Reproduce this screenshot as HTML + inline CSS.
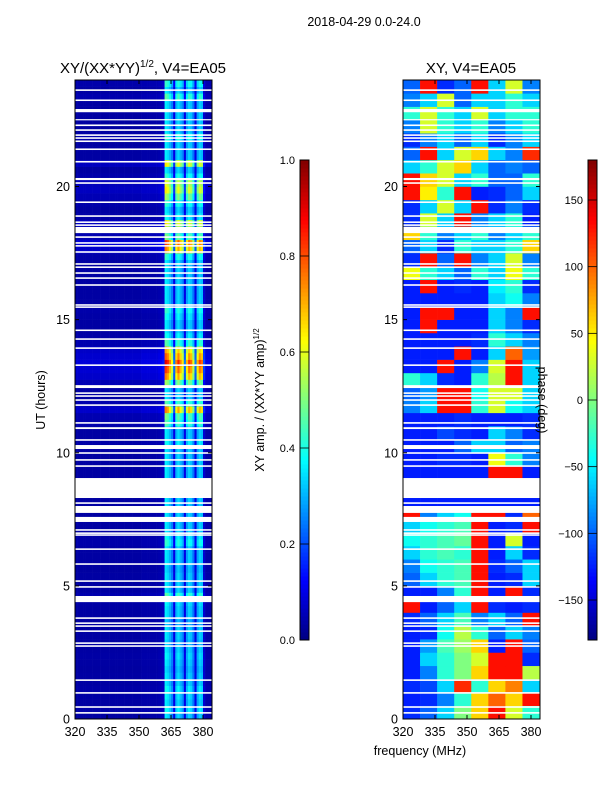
<!DOCTYPE html>
<html><head><meta charset="utf-8">
<style>
body{margin:0;background:#fff;width:600px;height:800px;overflow:hidden;font-family:"Liberation Sans","DejaVu Sans",sans-serif;}
svg text{font-family:"Liberation Sans","DejaVu Sans",sans-serif;fill:#000;}
</style></head><body>
<svg id="fig" width="600" height="800" xmlns="http://www.w3.org/2000/svg">
<rect x="0" y="0" width="600" height="800" fill="#fff"/>
<text x="364" y="26" font-size="12.5" text-anchor="middle">2018-04-29 0.0-24.0</text>
<text x="143" y="73" font-size="15" text-anchor="middle">XY/(XX*YY)<tspan font-size="10" dy="-6">1/2</tspan><tspan dy="6">, V4=EA05</tspan></text>
<text x="471" y="73" font-size="15" text-anchor="middle">XY, V4=EA05</text>
<g id="leftHeat"></g>
<g id="rightHeat"></g>
<g id="axes"></g>
<text transform="translate(45,400) rotate(-90)" font-size="12.5" text-anchor="middle">UT (hours)</text>
<text x="420" y="755" font-size="12.5" text-anchor="middle">frequency (MHz)</text>
<text transform="translate(264,400) rotate(-90)" font-size="12.5" text-anchor="middle">XY amp. / (XX*YY amp)<tspan font-size="8" dy="-5">1/2</tspan></text>
<text transform="translate(538,400) rotate(90)" font-size="12.5" text-anchor="middle">phase (deg)</text>
</svg>
<script>
// ---- data ----
const freqTicks = [320, 335, 350, 365, 380];
const hourTicks = [0, 5, 10, 15, 20];
const ampTicks = [0.0, 0.2, 0.4, 0.6, 0.8, 1.0];
const phaseTicks = [-150, -100, -50, 0, 50, 100, 150];
// amplitude column profile, 1-MHz bins from 320 to 384
const ampColProfile = [0.035,0.035,0.035,0.035,0.035,0.035,0.035,0.035,0.035,0.035,0.035,0.035,0.035,0.035,0.035,0.035,
 0.035,0.035,0.035,0.035,0.035,0.035,0.035,0.035,0.035,0.035,0.035,0.035,0.035,0.035,0.035,0.04,
 0.04,0.04,0.04,0.04,0.04,0.04,0.04,0.045,0.05,0.06,0.36,0.34,0.3,0.25,0.1,0.3,
 0.34,0.3,0.26,0.1,0.28,0.33,0.31,0.24,0.1,0.28,0.33,0.31,0.08,0.04,0.04,0.04];
// amplitude row gain, 0.25-hour bins from 0 to 24
const ampRowGain = [1.0,1.1,1.0,1.05,1.1,1.0,1.0,0.95,1.0,1.05,1.0,0.95,1.0,1.0,0.9,1.0,
 1.0,1.05,1.3,1.0,1.0,1.0,0.95,1.0,1.0,1.0,1.2,1.1,1.0,1.0,1.0,1.0,
 1.0,1.0,1.0,1.0,1.0,1.0,1.0,1.0,1.0,1.1,1.0,1.0,1.3,1.4,2.1,1.3,
 1.0,1.0,1.5,2.1,2.3,2.5,2.2,2.0,1.3,1.1,1.0,1.0,1.1,1.2,1.0,1.0,
 1.0,1.0,1.0,1.0,1.0,1.2,2.1,2.3,1.4,1.0,1.8,1.1,1.0,1.2,1.5,1.8,
 1.7,1.2,1.0,1.8,1.0,1.0,1.0,1.2,1.0,1.0,1.0,1.0,1.0,1.3,1.0,1.2];
// phase (deg), 8 freq bins of 8 MHz (320-384), 48 rows of 0.5 h
const phaseRows = [
 [-120,-100,-60,0,60,130,30,-30],[-125,-120,-90,-30,60,100,60,130],
 [-120,-110,-60,120,-30,60,90,-60],[-125,-90,-30,0,60,130,130,20],
 [-125,-60,-30,0,30,130,130,-120],[-125,-80,-20,10,60,-125,130,-100],
 [-125,-120,-40,20,-30,-100,-60,-90],[-120,-100,-60,-20,-90,-60,-100,130],
 [130,-125,-100,-60,130,-120,-125,-120],[-125,-125,-90,-30,130,-125,130,-120],
 [-100,-60,-30,-20,130,-125,-120,-60],[-90,-40,-30,-20,130,-120,-100,-60],
 [-60,-30,-20,-30,130,-125,-60,-120],[-40,-30,-20,-10,130,-125,30,-125],
 [-60,-40,-30,-20,130,-125,-120,130],[130,-90,-60,-40,130,130,-120,100],
 [-125,-125,-125,-125,-125,-125,-125,-125],[-125,-125,-125,-125,-125,-125,-125,-125],
 [-125,-125,-125,-125,-125,130,130,-125],[-125,-125,-120,-120,-125,40,-30,-90],
 [-125,-125,-125,-100,-60,-60,-100,-90],[-125,-125,-110,-120,-125,-60,-90,-120],
 [-125,-125,-125,-120,-125,-125,-125,-120],[-90,-60,130,130,-30,30,-40,-60],
 [-100,-80,130,130,-40,30,30,-60],[-30,-60,-120,-125,-30,20,130,-60],
 [-125,-125,130,-125,-90,30,130,-60],[-125,-125,-125,130,-125,-60,100,-80],
 [-125,-125,-125,-125,-120,-30,-60,-90],[-125,130,-125,-125,-125,-60,-90,-120],
 [-125,130,130,-125,-125,-60,-90,130],[-125,-125,-125,-125,-125,-60,-40,-90],
 [-125,130,-125,-120,-125,-50,-30,-120],[40,-30,-60,-100,-30,-60,40,-30],
 [-120,130,-100,130,-90,-60,30,-90],[-100,-60,-120,-30,-60,-60,-30,60],
 [60,-30,-90,-60,-30,-90,-60,-30],[-120,30,-60,130,-90,-60,-30,-125],
 [-120,-60,30,-60,130,-120,-90,-120],[130,50,-30,130,-125,-120,-100,-60],
 [130,60,30,-60,-30,-100,-100,-30],[-60,-30,30,60,-60,-100,-90,-100],
 [-100,130,-60,30,60,-60,-90,120],[-120,-90,-60,-100,-60,-120,-90,-60],
 [-90,30,-30,-60,-30,-90,-60,-30],[-30,30,-30,-60,30,-60,-30,-30],
 [-90,-60,30,-100,-60,-60,-30,-60],[-100,130,-120,-100,130,-60,30,-90]];
// flagged (blank) time ranges, hours [start, end]
const flagged = [[0.2,0.26],[0.42,0.48],[0.95,1.01],[1.43,1.49],[2.71,2.77],[2.82,2.88],[3.27,3.33],
 [3.46,3.52],[3.57,3.63],[3.76,3.82],[4.39,4.62],[4.93,4.99],[5.15,5.21],[5.79,5.85],[6.35,6.41],
 [6.88,6.94],[6.95,7.01],[7.07,7.13],[7.4,7.59],[7.74,8.0],[8.08,8.14],[8.3,9.05],[9.47,9.53],
 [9.7,9.76],[9.96,10.02],[10.14,10.29],[10.45,10.51],[10.89,10.96],[11.09,11.15],[11.76,11.82],
 [11.95,12.01],[12.1,12.16],[12.21,12.27],[12.43,12.54],[13.26,13.32],[13.9,13.96],[14.24,14.3],
 [14.57,14.63],[15.44,15.5],[15.52,15.58],[16.27,16.33],[16.53,16.59],[16.72,16.78],[16.94,17.0],
 [17.06,17.12],[17.51,17.57],[17.74,17.8],[17.85,17.91],[18.07,18.13],[18.25,18.48],[18.52,18.58],
 [18.63,18.69],[18.86,18.92],[19.38,19.44],[20.1,20.16],[20.24,20.32],[20.9,20.96],[21.37,21.43],
 [21.67,21.73],[21.79,21.85],[21.9,21.96],[22.09,22.15],[22.27,22.33],[22.49,22.53],[22.79,22.91],
 [23.21,23.27],[23.59,23.65]];

// ---- geometry ----
const svg = document.getElementById('fig');
const NS = 'http://www.w3.org/2000/svg';
const Y0 = 719, Y1 = 80, F0 = 320, F1 = 384.2;
const yH = h => Y0 + (Y1 - Y0) * h / 24;
const xL = f => 75 + (f - F0) * 32 / 15;
const xR = f => 403 + (f - F0) * 32 / 15;
function jet(v){
  v = Math.max(0, Math.min(1, v));
  const c = x => Math.round(255 * Math.max(0, Math.min(1, x)));
  const r = c(Math.min(4*v-1.5, -4*v+4.5));
  const g = c(Math.min(4*v-0.5, -4*v+3.5));
  const b = c(Math.min(4*v+0.5, -4*v+2.5));
  return `rgb(${r},${g},${b})`;
}
function mk(tag, attrs, parent){
  const e = document.createElementNS(NS, tag);
  for (const k in attrs) e.setAttribute(k, attrs[k]);
  parent.appendChild(e);
  return e;
}
// left heatmap
const lh = document.getElementById('leftHeat');
for (let j = 0; j < ampRowGain.length; j++){
  const h0 = j * 0.25, h1 = h0 + 0.25;
  for (let i = 0; i < ampColProfile.length; i++){
    const f0 = F0 + i, f1 = Math.min(F0 + i + 1, F1);
    const r = mk('rect', {x: xL(f0), y: yH(h1), width: xL(f1) - xL(f0) + 0.3, height: yH(h0) - yH(h1) + 0.3,
      fill: jet(ampColProfile[i] * ampRowGain[j])}, lh);
    
    
  }
}
// right heatmap
const rh = document.getElementById('rightHeat');
for (let j = 0; j < phaseRows.length; j++){
  const h0 = j * 0.5, h1 = h0 + 0.5;
  for (let i = 0; i < 8; i++){
    const f0 = F0 + i * 8, f1 = Math.min(F0 + (i + 1) * 8, F1);
    const r = mk('rect', {x: xR(f0), y: yH(h1), width: xR(f1) - xR(f0) + 0.3, height: yH(h0) - yH(h1) + 0.3,
      fill: jet((phaseRows[j][i] + 180) / 360)}, rh);
    
    
  }
}
// flagged rows
const ax = document.getElementById('axes');
for (const [a, b] of flagged){
  for (const x0 of [75, 403]){
    const r = mk('rect', {x: x0, y: yH(b), width: 137, height: Math.max(1.2, yH(a) - yH(b)), fill: '#fff'}, ax);
    
    
  }
}
// axes frames and ticks
for (const [x0, xf, nm] of [[75, xL, 'left'], [403, xR, 'right']]){
  const fr = mk('rect', {x: x0, y: Y1, width: 137, height: Y0 - Y1, fill: 'none', stroke: '#000', 'stroke-width': 1}, ax);
  
  
  for (const f of freqTicks){
    const x = xf(f);
    mk('line', {x1: x, x2: x, y1: Y0, y2: Y0 - 4, stroke: '#000'}, ax);
    mk('line', {x1: x, x2: x, y1: Y1, y2: Y1 + 4, stroke: '#000'}, ax);
    const t = mk('text', {x: x, y: 736, 'font-size': 12.5, 'text-anchor': 'middle'}, ax);
    t.textContent = f;
    
    
  }
  for (const h of hourTicks){
    const y = yH(h);
    mk('line', {x1: x0, x2: x0 + 4, y1: y, y2: y, stroke: '#000'}, ax);
    mk('line', {x1: x0 + 137, x2: x0 + 133, y1: y, y2: y, stroke: '#000'}, ax);
    const t = mk('text', {x: x0 - 5, y: y + 4.5, 'font-size': 12.5, 'text-anchor': 'end'}, ax);
    t.textContent = h;
    
    
  }
}
// colorbars
function colorbar(x0, vmin, vmax, ticks, fmt, nm){
  const C0 = 640, C1 = 160, n = 120;
  for (let k = 0; k < n; k++){
    const v0 = k / n;
    mk('rect', {x: x0, y: C0 - (k + 1) * (C0 - C1) / n, width: 9, height: (C0 - C1) / n + 0.5, fill: jet(v0 + 0.5 / n)}, ax);
  }
  const fr = mk('rect', {x: x0, y: C1, width: 9, height: C0 - C1, fill: 'none', stroke: '#000', 'stroke-width': 1}, ax);
  
  
  for (const v of ticks){
    const y = C0 - (v - vmin) / (vmax - vmin) * (C0 - C1);
    mk('line', {x1: x0, x2: x0 + 9, y1: y, y2: y, stroke: '#000', 'stroke-width': 0.8}, ax);
    const t = mk('text', {x: x0 - 5, y: y + 4, 'font-size': 11, 'text-anchor': 'end'}, ax);
    t.textContent = fmt(v);
    
    
  }
}
colorbar(300, 0, 1, ampTicks, v => v.toFixed(1), 'amp-colorbar');
colorbar(588, -180, 180, phaseTicks, v => (v < 0 ? '\u2212' + (-v) : '' + v), 'phase-colorbar');
</script>
</body></html>
